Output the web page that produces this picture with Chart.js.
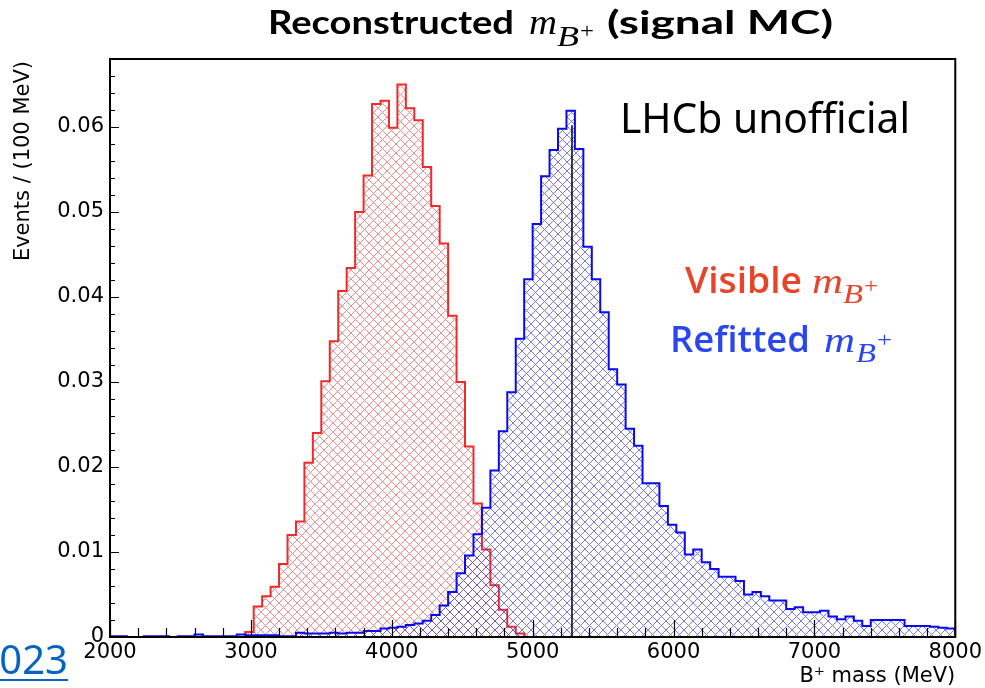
<!DOCTYPE html>
<html>
<head>
<meta charset="utf-8">
<title>Reconstructed B+ mass</title>
<script src="https://cdn.jsdelivr.net/npm/chart.js@4.4.1/dist/chart.umd.min.js"></script>
<style>
  html, body { margin: 0; padding: 0; background: #fff; }
  #wrap { width: 985px; height: 688px; position: relative; }
</style>
</head>
<body>
<div id="wrap"><canvas id="chart" width="985" height="688"></canvas></div>
<script>
// Binning of the histograms (100 bins of 60 MeV)
const massMin = 2000;
const massMax = 8000;
const binWidth = 60;

// Visible mass, one value per bin
const visibleMass = [
  0, 0, 0, 0, 0, 0, 0, 0, 0, 0,
  0, 0, 0, 0, 0, 0, 0.0006, 0.0036, 0.0048, 0.0059,
  0.0086, 0.0120, 0.0136, 0.0205, 0.0240, 0.0301, 0.0348, 0.0407, 0.0434, 0.0500,
  0.0543, 0.0627, 0.0631, 0.0599, 0.0650, 0.0622, 0.0608, 0.0553, 0.0507, 0.0463,
  0.0378, 0.0300, 0.0224, 0.0157, 0.0103, 0.0061, 0.0032, 0.0012, 0.0004, 0,
  0, 0, 0, 0, 0, 0, 0, 0, 0, 0,
  0, 0, 0, 0, 0, 0, 0, 0, 0, 0,
  0, 0, 0, 0, 0, 0, 0, 0, 0, 0,
  0, 0, 0, 0, 0, 0, 0, 0, 0, 0,
  0, 0, 0, 0, 0, 0, 0, 0, 0, 0
];

// Refitted mass, one value per bin
const refittedMass = [
  0.0001, 0.0001, 0, 0, 0.0001, 0.0001, 0.0001, 0, 0.0001, 0.0001,
  0.0003, 0.0001, 0.0001, 0.0001, 0.0001, 0.0003, 0.0002, 0.0002, 0.0002, 0.0002,
  0.0001, 0.0001, 0.0005, 0.0004, 0.0004, 0.0004, 0.0005, 0.0004, 0.0005, 0.0005,
  0.0007, 0.0007, 0.0010, 0.0011, 0.0012, 0.0014, 0.0016, 0.0019, 0.0026, 0.0037,
  0.0053, 0.0075, 0.0096, 0.0121, 0.0152, 0.0196, 0.0242, 0.0288, 0.0351, 0.0421,
  0.0486, 0.0542, 0.0573, 0.0598, 0.0619, 0.0574, 0.0459, 0.0421, 0.0382, 0.0315,
  0.0297, 0.0245, 0.0225, 0.0181, 0.0181, 0.0154, 0.0132, 0.0123, 0.0097, 0.0103,
  0.0088, 0.0080, 0.0071, 0.0071, 0.0066, 0.0050, 0.0053, 0.0048, 0.0043, 0.0043,
  0.0033, 0.0035, 0.0029, 0.0029, 0.0031, 0.0024, 0.0021, 0.0024, 0.0019, 0.0013,
  0.0020, 0.0020, 0.0020, 0.0020, 0.0013, 0.0013, 0.0013, 0.0012, 0.0011, 0.0010
];

// Axis ticks
const xTicks = [2000, 3000, 4000, 5000, 6000, 7000, 8000];
const yTicks = [0, 0.01, 0.02, 0.03, 0.04, 0.05, 0.06];
const yMax = 0.068;

// Nominal B+ mass marker
const pdgMass = 5279.3;
const markerTop = 0.0602;

const canvas = document.getElementById('chart');
const ctx = canvas.getContext('2d');

// Crossed hatch fill like ROOT's fill style (crisp 1px diagonals)
function hatch(color) {
  const size = 9;
  const c = document.createElement('canvas');
  c.width = size;
  c.height = size;
  const g = c.getContext('2d');
  g.fillStyle = color;
  for (let i = 0; i < size; i++) {
    g.fillRect(i, i, 1, 1);
    if (size - 1 - i !== i) g.fillRect(size - 1 - i, i, 1, 1);
  }
  return ctx.createPattern(c, 'repeat');
}

// Turn bin contents into step points (left edge of each bin, closed at both ends)
function histPoints(values) {
  const pts = [{ x: massMin, y: 0 }];
  values.forEach((v, i) => pts.push({ x: massMin + i * binWidth, y: v }));
  const end = massMin + values.length * binWidth;
  pts.push({ x: end, y: values[values.length - 1] });
  pts.push({ x: end, y: 0 });
  return pts;
}

const histDataset = (label, values, border, fillColor, order) => ({
  label,
  data: histPoints(values),
  borderColor: border,
  backgroundColor: hatch(fillColor),
  borderWidth: 2,
  stepped: true,
  fill: 'origin',
  pointRadius: 0,
  tension: 0,
  order,
});

// Draw text squeezed to a given width
function fitText(c, text, font, color, x, y, w) {
  c.save();
  c.font = font;
  c.fillStyle = color;
  c.textAlign = 'left';
  c.textBaseline = 'alphabetic';
  const m = c.measureText(text).width;
  c.translate(x, y);
  c.scale(w / m, 1);
  c.fillText(text, 0, 0);
  c.restore();
}

const red = '#e8442a';
const blue = '#2a46ee';
const notes = [
  // title
  { text: 'Reconstructed', font: 'bold 33px Lato', color: '#000', x: 268, y: 34, w: 246 },
  { text: 'm', font: 'italic 36px "Liberation Serif"', color: '#000', x: 529, y: 34, w: 28 },
  { text: 'B', font: 'italic 30px "Liberation Serif"', color: '#000', x: 557, y: 46, w: 22 },
  { text: '+', font: '20px "Liberation Serif"', color: '#000', x: 580, y: 38, w: 14 },
  { text: '(signal MC)', font: 'bold 33px Lato', color: '#000', x: 607, y: 34, w: 226 },
  // top right label
  { text: 'LHCb unofficial', font: '42px "Noto Sans"', color: '#000', x: 620, y: 133, w: 290 },
  // legend
  { text: 'Visible', font: '600 36px "Open Sans"', color: red, x: 685, y: 293, w: 117 },
  { text: 'm', font: 'italic 36px "Liberation Serif"', color: red, x: 812, y: 293, w: 31 },
  { text: 'B', font: 'italic 27px "Liberation Serif"', color: red, x: 843, y: 303, w: 20 },
  { text: '+', font: '20px "Liberation Serif"', color: red, x: 864, y: 293, w: 14 },
  { text: 'Refitted', font: '600 36px "Open Sans"', color: blue, x: 670, y: 352, w: 140 },
  { text: 'm', font: 'italic 36px "Liberation Serif"', color: blue, x: 824, y: 352, w: 31 },
  { text: 'B', font: 'italic 27px "Liberation Serif"', color: blue, x: 856, y: 362, w: 20 },
  { text: '+', font: '20px "Liberation Serif"', color: blue, x: 877, y: 347, w: 15 },
];

// Frame, inner ticks, mass marker and annotations
const rootStyle = {
  id: 'rootStyle',
  afterDatasetsDraw(chart) {
    const { ctx: c, chartArea: a, scales: { x, y } } = chart;
    c.save();
    c.strokeStyle = '#000';

    // B+ mass line
    c.lineWidth = 1.5;
    c.beginPath();
    c.moveTo(x.getPixelForValue(pdgMass), y.getPixelForValue(0));
    c.lineTo(x.getPixelForValue(pdgMass), y.getPixelForValue(markerTop));
    c.stroke();

    // ticks pointing into the frame
    c.lineWidth = 1.2;
    c.beginPath();
    for (let m = massMin; m <= massMax; m += 200) {
      const px = Math.round(x.getPixelForValue(m)) + 0.5;
      const len = xTicks.includes(m) ? 17 : 9;
      c.moveTo(px, a.bottom);
      c.lineTo(px, a.bottom - len);
    }
    for (let i = 0; i * 0.002 <= yMax; i++) {
      const py = Math.round(y.getPixelForValue(i * 0.002)) + 0.5;
      const len = i % 5 === 0 ? 9 : 5;
      c.moveTo(a.left, py);
      c.lineTo(a.left + len, py);
    }
    c.stroke();

    // frame
    c.lineWidth = 2;
    c.strokeRect(a.left, a.top, a.right - a.left, a.bottom - a.top);
    c.restore();
  },
  afterDraw(chart) {
    const c = chart.ctx;
    const a = chart.chartArea;
    notes.forEach(n => fitText(c, n.text, n.font, n.color, n.x, n.y, n.w));

    c.save();
    c.fillStyle = '#000';
    c.font = '21px "DejaVu Sans"';
    // x axis title
    c.textAlign = 'right';
    c.textBaseline = 'middle';
    c.fillText('B\u207A mass (MeV)', a.right, 677);
    // y axis title
    c.translate(24, a.top + 2);
    c.rotate(-Math.PI / 2);
    c.fillText('Events / (100 MeV)', 0, 0);
    c.restore();

    // link fragment at the bottom left
    c.save();
    c.fillStyle = '#0563c1';
    c.font = '40px "Noto Sans"';
    c.textAlign = 'right';
    c.textBaseline = 'alphabetic';
    c.fillText('2023', 68, 674);
    c.fillRect(0, 679, 68, 2);
    c.restore();
  },
};

new Chart(ctx, {
  type: 'line',
  data: {
    datasets: [
      histDataset('Visible m_B+', visibleMass, '#ee2a2a', 'rgba(240, 80, 80, 0.65)', 2),
      histDataset('Refitted m_B+', refittedMass, '#0a0af0', 'rgba(50, 50, 240, 0.65)', 1),
    ],
  },
  options: {
    responsive: false,
    animation: false,
    events: [],
    layout: { padding: { left: 0, top: 59, right: 28, bottom: 0 } },
    plugins: {
      legend: { display: false },
      tooltip: { enabled: false },
      title: { display: false },
    },
    scales: {
      x: {
        type: 'linear',
        min: massMin,
        max: massMax,
        grid: { display: false, drawTicks: false },
        border: { display: false },
        afterBuildTicks: s => { s.ticks = xTicks.map(v => ({ value: v })); },
        afterFit: s => { s.height = 51; },
        ticks: {
          padding: 3,
          maxRotation: 0,
          color: '#000',
          font: { family: 'DejaVu Sans', size: 21 },
          callback: v => String(v),
        },
      },
      y: {
        min: 0,
        max: yMax,
        grid: { display: false, drawTicks: false },
        border: { display: false },
        afterBuildTicks: s => { s.ticks = yTicks.map(v => ({ value: v })); },
        afterFit: s => { s.width = 110; },
        ticks: {
          padding: 6,
          color: '#000',
          font: { family: 'DejaVu Sans', size: 21 },
          callback: v => (v === 0 ? '0' : v.toFixed(2)),
        },
      },
    },
  },
  plugins: [rootStyle],
});
</script>
</body>
</html>
